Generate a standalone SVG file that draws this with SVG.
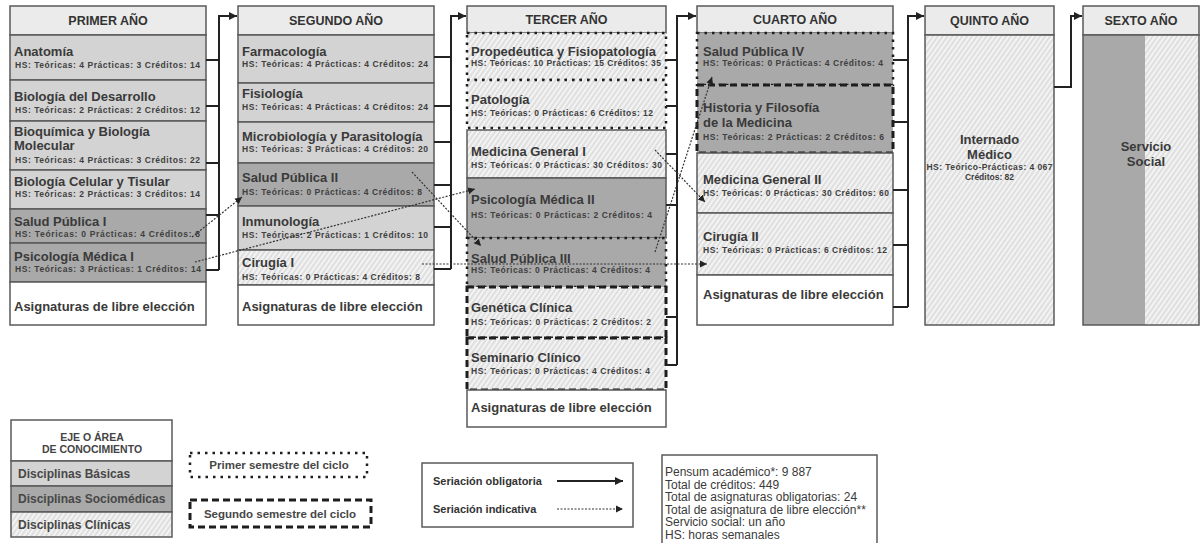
<svg xmlns="http://www.w3.org/2000/svg" width="1201" height="543" viewBox="0 0 1201 543">
<style>
.hd{fill:#ebebeb;stroke:#5a5a5a;stroke-width:1.5}
.bas{fill:#d3d3d3;stroke:#5a5a5a;stroke-width:1.5}
.soc{fill:#a9a9a9;stroke:#5a5a5a;stroke-width:1.5}
.cli{fill:url(#hatch);stroke:#5a5a5a;stroke-width:1.5}
.lib{fill:#fff;stroke:#5a5a5a;stroke-width:1.5}
.dot{fill:none;stroke:#1e1e1e;stroke-width:2.5;stroke-dasharray:2.5 5}
.dsh{fill:none;stroke:#1e1e1e;stroke-width:3;stroke-dasharray:7 4}
.nb{stroke:none}
text{font-family:"Liberation Sans",Arial,sans-serif;font-weight:bold;fill:#3a3a3a}
.t{font-size:13px}
.hs{font-size:8.5px;fill:#404040}
.h{font-size:12.5px;text-anchor:middle;fill:#333}
.c{text-anchor:middle}
.lg{font-size:12px;fill:#474747}
.inf{font-family:"Liberation Sans",Arial,sans-serif;font-weight:normal;font-size:12px;fill:#3a3a3a}
.br{fill:none;stroke:#222;stroke-width:2}
.ind{fill:none;stroke:#333;stroke-width:1.2;stroke-dasharray:2 1.5}
</style>
<defs>
<pattern id="hatch" patternUnits="userSpaceOnUse" width="4" height="4" patternTransform="rotate(35)">
<rect width="4" height="4" fill="#f3f3f3"/>
<line x1="1" y1="0" x2="1" y2="4" stroke="#d2d2d2" stroke-width="1.2"/>
</pattern>
<marker id="ah" markerUnits="userSpaceOnUse" markerWidth="9" markerHeight="9" refX="8" refY="4.5" orient="auto">
<path d="M0,0.5 L8,4.5 L0,8.5 z" fill="#222"/>
</marker>
<marker id="ai" markerUnits="userSpaceOnUse" markerWidth="8" markerHeight="8" refX="7" refY="4" orient="auto">
<path d="M0,0.5 L7,4 L0,7.5 z" fill="#222"/>
</marker>
</defs>
<rect width="1201" height="543" fill="#fff"/>

<!-- Column 1 -->
<g id="primer-hd"><rect class="hd" x="10" y="6" width="196" height="29"/><text class="h" x="108" y="25">PRIMER AÑO</text></g>
<g id="anatomia"><rect class="bas" x="10" y="35" width="196" height="45"/><text class="t" x="14" y="56">Anatomía</text><text class="hs" x="15" y="68" textLength="185">HS: Teóricas: 4 Prácticas: 3 Créditos: 14</text></g>
<g id="biodes"><rect class="bas" x="10" y="80" width="196" height="41"/><text class="t" x="14" y="101">Biología del Desarrollo</text><text class="hs" x="15" y="113" textLength="185">HS: Teóricas: 2 Prácticas: 2 Créditos: 12</text></g>
<g id="bioquim"><rect class="bas" x="10" y="121" width="196" height="49"/><text class="t" x="14" y="136">Bioquímica y Biología</text><text class="t" x="14" y="150">Molecular</text><text class="hs" x="15" y="163" textLength="185">HS: Teóricas: 4 Prácticas: 3 Créditos: 22</text></g>
<g id="biocel"><rect class="bas" x="10" y="170" width="196" height="39"/><text class="t" x="14" y="186">Biología Celular y Tisular</text><text class="hs" x="15" y="197" textLength="185">HS: Teóricas: 2 Prácticas: 3 Créditos: 14</text></g>
<g id="sp1"><rect class="soc" x="10" y="209" width="196" height="34"/><text class="t" x="14" y="226">Salud Pública I</text><text class="hs" x="15" y="237" textLength="185">HS: Teóricas: 0 Prácticas: 4 Créditos: 8</text></g>
<g id="psi1"><rect class="soc" x="10" y="243" width="196" height="39"/><text class="t" x="14" y="261">Psicología Médica I</text><text class="hs" x="15" y="272" textLength="186">HS: Teóricas: 3 Prácticas: 1 Créditos: 14</text></g>
<g id="lib1"><rect class="lib" x="10" y="282" width="196" height="43"/><text class="t" x="14" y="311">Asignaturas de libre elección</text></g>

<!-- Column 2 -->
<g id="segundo-hd"><rect class="hd" x="238" y="6" width="196" height="29"/><text class="h" x="336" y="25">SEGUNDO AÑO</text></g>
<g id="farma"><rect class="bas" x="238" y="35" width="196" height="48"/><text class="t" x="242" y="56">Farmacología</text><text class="hs" x="242" y="67" textLength="186">HS: Teóricas: 4 Prácticas: 4 Créditos: 24</text></g>
<g id="fisio"><rect class="bas" x="238" y="83" width="196" height="39"/><text class="t" x="242" y="98">Fisiología</text><text class="hs" x="242" y="110" textLength="186">HS: Teóricas: 4 Prácticas: 4 Créditos: 24</text></g>
<g id="micro"><rect class="bas" x="238" y="122" width="196" height="41"/><text class="t" x="242" y="141">Microbiología y Parasitología</text><text class="hs" x="242" y="152" textLength="186">HS: Teóricas: 3 Prácticas: 4 Créditos: 20</text></g>
<g id="sp2"><rect class="soc" x="238" y="163" width="196" height="43"/><text class="t" x="242" y="182">Salud Pública II</text><text class="hs" x="242" y="195" textLength="180">HS: Teóricas: 0 Prácticas: 4 Créditos: 8</text></g>
<g id="inmuno"><rect class="bas" x="238" y="206" width="196" height="44"/><text class="t" x="242" y="226">Inmunología</text><text class="hs" x="242" y="238" textLength="186">HS: Teóricas: 2 Prácticas: 1 Créditos: 10</text></g>
<g id="cir1"><rect class="cli" x="238" y="250" width="196" height="35"/><text class="t" x="242" y="267">Cirugía I</text><text class="hs" x="242" y="280" textLength="178">HS: Teóricas: 0 Prácticas: 4 Créditos: 8</text></g>
<g id="lib2"><rect class="lib" x="238" y="285" width="196" height="40"/><text class="t" x="242" y="311">Asignaturas de libre elección</text></g>

<!-- Column 3 -->
<g id="tercer-hd"><rect class="hd" x="467" y="6" width="199" height="27"/><text class="h" x="566.5" y="24">TERCER AÑO</text></g>
<g id="proped"><rect class="cli nb" x="467" y="33" width="199" height="47"/><rect class="dot" x="467" y="33" width="199" height="47"/><text class="t" x="471" y="56">Propedéutica y Fisiopatología</text><text class="hs" x="471" y="66" textLength="190">HS: Teóricas: 10 Prácticas: 15 Créditos: 35</text></g>
<g id="pato"><rect class="cli nb" x="467" y="80" width="199" height="48"/><rect class="dot" x="467" y="80" width="199" height="48"/><text class="t" x="471" y="104">Patología</text><text class="hs" x="471" y="116" textLength="182">HS: Teóricas: 0 Prácticas: 6 Créditos: 12</text></g>
<g id="mg1"><rect class="cli" x="467" y="130" width="199" height="48"/><text class="t" x="471" y="156">Medicina General I</text><text class="hs" x="471" y="168" textLength="191">HS: Teóricas: 0 Prácticas: 30 Créditos: 30</text></g>
<g id="psi2"><rect class="soc" x="467" y="178" width="199" height="60"/><text class="t" x="471" y="204">Psicología Médica II</text><text class="hs" x="471" y="218" textLength="181">HS: Teóricas: 0 Prácticas: 2 Créditos: 4</text></g>
<g id="sp3"><rect class="soc nb" x="467" y="238" width="199" height="49"/><rect class="dot" x="467" y="238" width="199" height="49"/><text class="t" x="471" y="263">Salud Pública III</text><text class="hs" x="471" y="273" textLength="179">HS: Teóricas: 0 Prácticas: 4 Créditos: 4</text></g>
<g id="gen"><rect class="cli nb" x="467" y="287" width="199" height="51"/><rect class="dsh" x="467" y="287" width="199" height="51"/><text class="t" x="471" y="312">Genética Clínica</text><text class="hs" x="471" y="325" textLength="180">HS: Teóricas: 0 Prácticas: 2 Créditos: 2</text></g>
<g id="sem"><rect class="cli nb" x="467" y="338" width="199" height="52"/><rect class="dsh" x="467" y="338" width="199" height="52"/><text class="t" x="471" y="362">Seminario Clínico</text><text class="hs" x="471" y="374" textLength="179">HS: Teóricas: 0 Prácticas: 4 Créditos: 4</text></g>
<g id="lib3"><rect class="lib" x="467" y="390" width="199" height="37"/><text class="t" x="471" y="412">Asignaturas de libre elección</text></g>

<!-- Column 4 -->
<g id="cuarto-hd"><rect class="hd" x="697" y="6" width="196" height="27"/><text class="h" x="795" y="24">CUARTO AÑO</text></g>
<g id="sp4"><rect class="soc nb" x="697" y="33" width="196" height="52"/><rect class="dot" x="697" y="33" width="196" height="52"/><text class="t" x="703" y="56">Salud Pública IV</text><text class="hs" x="703" y="66" textLength="180">HS: Teóricas: 0 Prácticas: 4 Créditos: 4</text></g>
<g id="hist"><rect class="soc nb" x="697" y="85" width="196" height="68"/><rect class="dsh" x="697" y="85" width="196" height="68"/><text class="t" x="703" y="112">Historia y Filosofía</text><text class="t" x="703" y="127">de la Medicina</text><text class="hs" x="703" y="140" textLength="181">HS: Teóricas: 2 Prácticas: 2 Créditos: 6</text></g>
<g id="mg2"><rect class="cli" x="697" y="153" width="196" height="60"/><text class="t" x="703" y="184">Medicina General II</text><text class="hs" x="703" y="196" textLength="186">HS: Teóricas: 0 Prácticas: 30 Créditos: 60</text></g>
<g id="cir2"><rect class="cli" x="697" y="213" width="196" height="62"/><text class="t" x="703" y="241">Cirugía II</text><text class="hs" x="703" y="253" textLength="184">HS: Teóricas: 0 Prácticas: 6 Créditos: 12</text></g>
<g id="lib4"><rect class="lib" x="697" y="275" width="196" height="50"/><text class="t" x="703" y="299">Asignaturas de libre elección</text></g>

<!-- Column 5 -->
<g id="quinto-hd"><rect class="hd" x="925" y="6" width="129" height="29"/><text class="h" x="989.5" y="25">QUINTO AÑO</text></g>
<g id="internado"><rect class="cli" x="925" y="35" width="129" height="290"/><text class="t c" x="989.5" y="144">Internado</text><text class="t c" x="989.5" y="159">Médico</text><text class="hs c" x="989.5" y="170" textLength="126">HS: Teórico-Prácticas: 4 067</text><text class="hs c" x="989.5" y="180">Créditos: 82</text></g>

<!-- Column 6 -->
<g id="sexto-hd"><rect class="hd" x="1083" y="6" width="116" height="29"/><text class="h" x="1141" y="25">SEXTO AÑO</text></g>
<g id="servicio"><rect class="cli nb" x="1145" y="35" width="54" height="290"/><rect fill="#a9a9a9" x="1083" y="35" width="62" height="290"/><rect fill="none" stroke="#5a5a5a" stroke-width="1.5" x="1083" y="35" width="116" height="290"/><text class="t c" x="1146" y="151">Servicio</text><text class="t c" x="1146" y="166">Social</text></g>

<!-- Connectors -->
<g id="connectors">
<path class="br" d="M206,60 H219 M206,106 H219 M206,163 H219 M206,215 H219 M206,270 H219 M219,270 V16 H237" marker-end="url(#ah)"/>
<path class="br" d="M434,57 H451 M434,106 H451 M434,142 H451 M434,185 H451 M434,227 H451 M434,269 H451 M451,269 V16 H466" marker-end="url(#ah)"/>
<path class="br" d="M666,60 H677 M666,106 H677 M666,154 H677 M666,205 H677 M666,317 H677 M666,365 H677 M677,365 V16 H696" marker-end="url(#ah)"/>
<path class="br" d="M893,60 H908 M893,122 H908 M893,190 H908 M893,245 H908 M893,307 H908 M908,307 V16 H924" marker-end="url(#ah)"/>
<path class="br" d="M1054,87 H1071 V16 H1082" marker-end="url(#ah)"/>
<path class="ind" d="M192,237 L242,197" marker-end="url(#ai)"/>
<path class="ind" d="M195,262 L475,189" marker-end="url(#ai)"/>
<path class="ind" d="M412,172 L481,246" marker-end="url(#ai)"/>
<path class="ind" d="M422,264 L707,264" marker-end="url(#ai)"/>
<path class="ind" d="M655,150 L705,202" marker-end="url(#ai)"/>
<path class="ind" d="M655,252 L712,77" marker-end="url(#ai)"/>
</g>

<!-- Legend: area -->
<g id="legend-area">
<rect class="lib" x="11" y="420" width="161" height="41"/>
<text class="c" x="92" y="441" style="font-size:10.5px;fill:#444">EJE O ÁREA</text>
<text class="c" x="92" y="453" style="font-size:10.5px;fill:#444">DE CONOCIMIENTO</text>
<rect class="bas" x="11" y="461" width="161" height="25"/>
<text class="lg" x="18" y="478">Disciplinas Básicas</text>
<rect class="soc" x="11" y="486" width="161" height="26"/>
<text class="lg" x="18" y="503">Disciplinas Sociomédicas</text>
<rect class="cli" x="11" y="512" width="161" height="25"/>
<text class="lg" x="18" y="529">Disciplinas Clínicas</text>
</g>
<g id="legend-sem1"><rect class="dot" x="190" y="453" width="177" height="24"/><text class="lg c" x="279" y="469" style="font-size:11.5px">Primer semestre del ciclo</text></g>
<g id="legend-sem2"><rect class="dsh" x="190" y="500" width="181" height="27"/><text class="lg c" x="280" y="518" style="font-size:11.5px">Segundo semestre del ciclo</text></g>
<g id="legend-seriacion">
<rect fill="#fff" stroke="#5a5a5a" stroke-width="1.5" x="422" y="463" width="211" height="64"/>
<text x="433" y="485" style="font-size:11px;fill:#333">Seriación obligatoria</text>
<text x="433" y="513" style="font-size:11px;fill:#333">Seriación indicativa</text>
<path class="br" d="M557,481 H623" marker-end="url(#ah)"/>
<path class="ind" d="M557,509 H623" marker-end="url(#ai)"/>
</g>
<g id="legend-info">
<rect fill="#fff" stroke="#5a5a5a" stroke-width="1.5" x="662" y="455" width="215" height="95"/>
<text class="inf" x="665" y="476">Pensum académico*: 9 887</text>
<text class="inf" x="665" y="488.5">Total de créditos: 449</text>
<text class="inf" x="665" y="501">Total de asignaturas obligatorias: 24</text>
<text class="inf" x="665" y="513.5">Total de asignatura de libre elección**</text>
<text class="inf" x="665" y="526">Servicio social: un año</text>
<text class="inf" x="665" y="538.5">HS: horas semanales</text>
</g>
</svg>
